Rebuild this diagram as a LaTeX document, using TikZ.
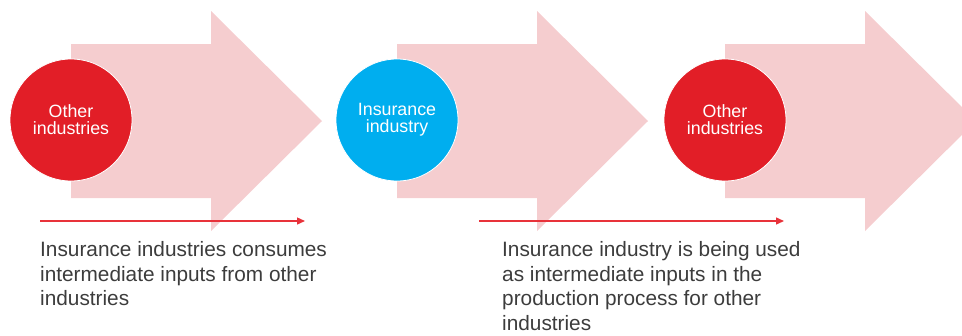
\documentclass[tikz,border=0pt]{standalone}
\usepackage{fontspec}
\setmainfont{Liberation Sans}
\usetikzlibrary{arrows.meta}

\definecolor{flowpink}{RGB}{245,205,207}
\definecolor{indred}{RGB}{226,30,39}
\definecolor{insblue}{RGB}{0,174,239}
\definecolor{noteline}{RGB}{232,50,58}
\definecolor{notegray}{RGB}{60,60,60}

\tikzset{
	sector/.style={circle, minimum size=122pt, inner sep=0pt, draw=white, line width=0.8pt,
		text=white, align=center, font=\fontsize{17.8}{17}\selectfont},
	note/.style={anchor=north west, inner sep=0pt, align=left, text=notegray,
		font=\fontsize{20.8}{24.8}\selectfont},
	noteflow/.style={noteline, line width=1.4pt, -{Triangle[length=8pt,width=7pt]}}
}

\begin{document}
\begin{tikzpicture}[x=1pt, y=-1pt]
	\useasboundingbox (0,0) rectangle (962,335);
	\clip (0,0) rectangle (962,335);

	% big background arrows, one per sector
	\foreach \x in {71,397,725}
		\fill[flowpink] (\x,44) -- (\x+140,44) -- (\x+140,11) -- (\x+251,121)
			-- (\x+140,231) -- (\x+140,198) -- (\x,198) -- cycle;

	% sectors
	\node[sector, fill=indred] (oth1) at (71,120) {Other\\industries};
	\node[sector, fill=insblue] (ins) at (397,120) {Insurance\\industry};
	\node[sector, fill=indred] (oth2) at (725,120) {Other\\industries};

	% notes under the flow
	\coordinate (a1) at (40,221);
	\coordinate (b1) at (305,221);
	\coordinate (a2) at (479,221);
	\coordinate (b2) at (784,221);
	\draw[noteflow] (a1) -- (b1);
	\draw[noteflow] (a2) -- (b2);

	\node[note] (buy) at (40,241) {Insurance industries consumes\\intermediate inputs from other\\industries};
	\node[note] (sell) at (502,241) {Insurance industry is being used\\as intermediate inputs in the\\production process for other\\industries};
\end{tikzpicture}
\end{document}
